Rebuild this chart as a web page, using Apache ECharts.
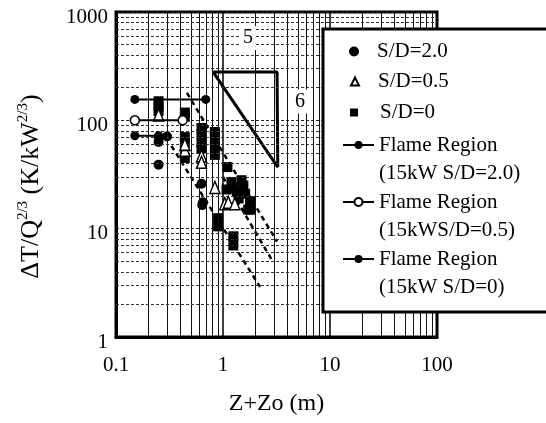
<!DOCTYPE html>
<html>
<head>
<meta charset="utf-8">
<script src="https://cdn.jsdelivr.net/npm/echarts@6/dist/echarts.min.js"></script>
<style>
html, body { margin: 0; background: #fff; }
#chart { width: 546px; height: 423px; }
</style>
</head>
<body>
<div id="chart"></div>
<script>
const sd20 = [[0.25, 70], [0.30, 71], [0.25, 63], [0.25, 39], [0.63, 26], [0.65, 17.5], [0.64, 16.5]];
const sd05 = [[0.25, 112], [0.44, 53], [0.44, 60], [0.63, 47], [0.63, 41], [0.84, 24], [1.04, 17], [1.12, 17.5], [1.29, 17]];
const sd00 = [
    [0.25, 150], [0.25, 135], [0.25, 122],
    [0.44, 118], [0.44, 108], [0.44, 70], [0.44, 62], [0.44, 45],
    [0.63, 85], [0.63, 75], [0.63, 62], [0.63, 55],
    [0.84, 78], [0.84, 68], [0.84, 58], [0.84, 48],
    [1.1, 37], [1.08, 23], [1.2, 27], [1.25, 24], [1.35, 22], [1.49, 28], [1.55, 25],
    [1.61, 21], [1.4, 19], [1.79, 18], [1.79, 15], [1.72, 15],
    [0.9, 12.5], [0.9, 10.5], [1.25, 8.5], [1.25, 7]
];
const flame20 = [[0.15, 156], [0.69, 156]];
const flame05 = [[0.15, 100], [0.42, 100]];
const flame00 = [[0.15, 72], [0.25, 72]];
const dashUpper = [[0.46, 179], [3.2, 7.6]];
const dashMiddle = [[1.0, 30], [2.95, 4.9]];
const dashLower = [[0.33, 58], [2.22, 2.9]];
const slopeTri = [[0.81, 279], [3.2, 279], [3.25, 37], [0.81, 279]];
const triLabels = [{ name: '5', value: [1.71, 575] }, { name: '6', value: [5.25, 149] }];
const minorSteps = [2, 3, 4, 5, 6, 7, 8, 9];
const xDecades = [0.1, 1, 10];
const yDecades = [1, 10, 100];

const font = 'Liberation Serif';

// log grid lines (the minor ones ECharts does not draw on log axes)
let gridLines = [];
xDecades.forEach(d => {
    minorSteps.forEach(m => {
        gridLines.push({ xAxis: d * m, lineStyle: { color: '#111', width: 1, type: 'solid' } });
    });
});
yDecades.forEach(d => {
    minorSteps.forEach(m => {
        gridLines.push({ yAxis: d * m, lineStyle: { color: '#333', width: 1, type: [3, 2] } });
    });
});

let chart = echarts.init(document.getElementById('chart'));
let dashed = { color: '#000', width: 2.5, type: [5, 4] };

// legend text: scatter entries get a left gap, flame entries a blank first line
// so the icon sits level with "Flame Region"
const symText = pad => ({
    rich: { t: { fontFamily: font, fontSize: 21, color: '#000', lineHeight: 24, padding: [0, 0, 0, pad] } }
});
const symFmt = name => '{t|' + name + '}';
const flameText = { fontFamily: font, fontSize: 21, color: '#000', lineHeight: 28.4 };
const flameFmt = name => ' \n' + name;

let option = {
    backgroundColor: '#fff',
    animation: false,
    grid: {
        left: 116, right: 109, top: 12, bottom: 86,
        show: true, borderColor: '#000', borderWidth: 3
    },
    xAxis: {
        type: 'log', logBase: 10, min: 0.1, max: 100,
        name: 'Z+Zo (m)', nameLocation: 'middle', nameGap: 55,
        nameTextStyle: { fontFamily: font, fontSize: 24, color: '#000' },
        axisLine: { lineStyle: { color: '#000', width: 3 } },
        axisTick: { show: false },
        axisLabel: { fontFamily: font, fontSize: 21, color: '#000', margin: 18, formatter: v => String(v) },
        splitLine: { show: true, lineStyle: { color: '#000', width: 1.5 } }
    },
    yAxis: {
        type: 'log', logBase: 10, min: 1, max: 1000,
        name: '{a|ΔT/Q}{s|2/3}{a| (K/kW}{s|2/3}{a|)}',
        nameLocation: 'middle', nameGap: 70,
        nameTextStyle: {
            fontFamily: font, color: '#000', padding: [0, 24, 0, 0],
            rich: {
                a: { fontFamily: font, fontSize: 26, color: '#000', lineHeight: 30 },
                s: { fontFamily: font, fontSize: 15, color: '#000', verticalAlign: 'top', lineHeight: 30 }
            }
        },
        axisLine: { lineStyle: { color: '#000', width: 3 } },
        axisTick: { show: false },
        axisLabel: {
            margin: 8,
            formatter: v => '{v|' + v + '}',
            rich: { v: { fontFamily: font, fontSize: 21, color: '#000', padding: [10, 0, 0, 0] } }
        },
        splitLine: { show: true, lineStyle: { color: '#222', width: 1, type: [3, 2] } }
    },
    graphic: [{
        type: 'rect', z: 10,
        shape: { x: 323, y: 29, width: 260, height: 283 },
        style: { fill: '#fff', stroke: '#000', lineWidth: 3 }
    }],
    legend: [
        { data: [{ name: 'S/D=2.0', icon: 'circle' }], left: 349, top: 41, itemWidth: 10, itemHeight: 10,
          formatter: symFmt, textStyle: symText(13) },
        { data: [{ name: 'S/D=0.5', icon: 'triangle' }], left: 350, top: 71, itemWidth: 8, itemHeight: 8,
          formatter: symFmt, textStyle: symText(14) },
        { data: [{ name: 'S/D=0', icon: 'rect' }], left: 350, top: 102, itemWidth: 8, itemHeight: 8,
          formatter: symFmt, textStyle: symText(17) },
        { data: ['Flame Region\n(15kW S/D=2.0)'], left: 342, top: 102.4, itemWidth: 31, itemHeight: 10,
          formatter: flameFmt, textStyle: flameText },
        { data: ['Flame Region\n(15kWS/D=0.5)'], left: 342, top: 159.4, itemWidth: 31, itemHeight: 10,
          formatter: flameFmt, textStyle: flameText },
        { data: ['Flame Region\n(15kW S/D=0)'], left: 342, top: 216.4, itemWidth: 31, itemHeight: 10,
          formatter: flameFmt, textStyle: flameText }
    ].map(l => Object.assign({ orient: 'vertical', padding: 0, z: 20 }, l)),
    series: [
        {
            name: 'grid', type: 'line', data: [], z: 1, silent: true,
            markLine: { silent: true, symbol: ['none', 'none'], label: { show: false }, data: gridLines }
        },
        {
            name: 'S/D=2.0', type: 'scatter', data: sd20, z: 4,
            symbol: 'circle', symbolSize: 10, itemStyle: { color: '#000', opacity: 1 }
        },
        {
            name: 'S/D=0.5', type: 'scatter', data: sd05, z: 5,
            symbol: 'triangle', symbolSize: [10, 12],
            itemStyle: { color: '#fff', borderColor: '#000', borderWidth: 1.5, opacity: 1 }
        },
        {
            name: 'S/D=0', type: 'scatter', data: sd00, z: 4,
            symbol: 'rect', symbolSize: 10, itemStyle: { color: '#000', opacity: 1 }
        },
        {
            name: 'Flame Region\n(15kW S/D=2.0)', type: 'line', data: flame20, z: 6,
            symbol: 'circle', symbolSize: 9, showAllSymbol: true,
            lineStyle: { color: '#000', width: 2 }, itemStyle: { color: '#000' }
        },
        {
            name: 'Flame Region\n(15kWS/D=0.5)', type: 'line', data: flame05, z: 6,
            symbol: 'circle', symbolSize: 9, showAllSymbol: true,
            lineStyle: { color: '#000', width: 2 },
            itemStyle: { color: '#fff', borderColor: '#000', borderWidth: 1.5 }
        },
        {
            name: 'Flame Region\n(15kW S/D=0)', type: 'line', data: flame00, z: 6,
            symbol: 'circle', symbolSize: 9, showAllSymbol: true,
            lineStyle: { color: '#000', width: 2 }, itemStyle: { color: '#000' }
        },
        { name: 'upper', type: 'line', data: dashUpper, symbol: 'none', z: 3, lineStyle: dashed },
        { name: 'middle', type: 'line', data: dashMiddle, symbol: 'none', z: 3, lineStyle: dashed },
        { name: 'lower', type: 'line', data: dashLower, symbol: 'none', z: 3, lineStyle: dashed },
        {
            name: 'slope', type: 'line', data: slopeTri, symbol: 'none', z: 3,
            lineStyle: { color: '#000', width: 3 }
        },
        {
            name: 'slopeText', type: 'scatter', data: triLabels, symbolSize: 0, z: 8,
            label: {
                show: true, position: 'inside', formatter: '{b}',
                fontFamily: font, fontSize: 20, color: '#000', opacity: 1,
                backgroundColor: '#fff', padding: [2, 3]
            }
        }
    ]
};
option && chart.setOption(option);
</script>
</body>
</html>
